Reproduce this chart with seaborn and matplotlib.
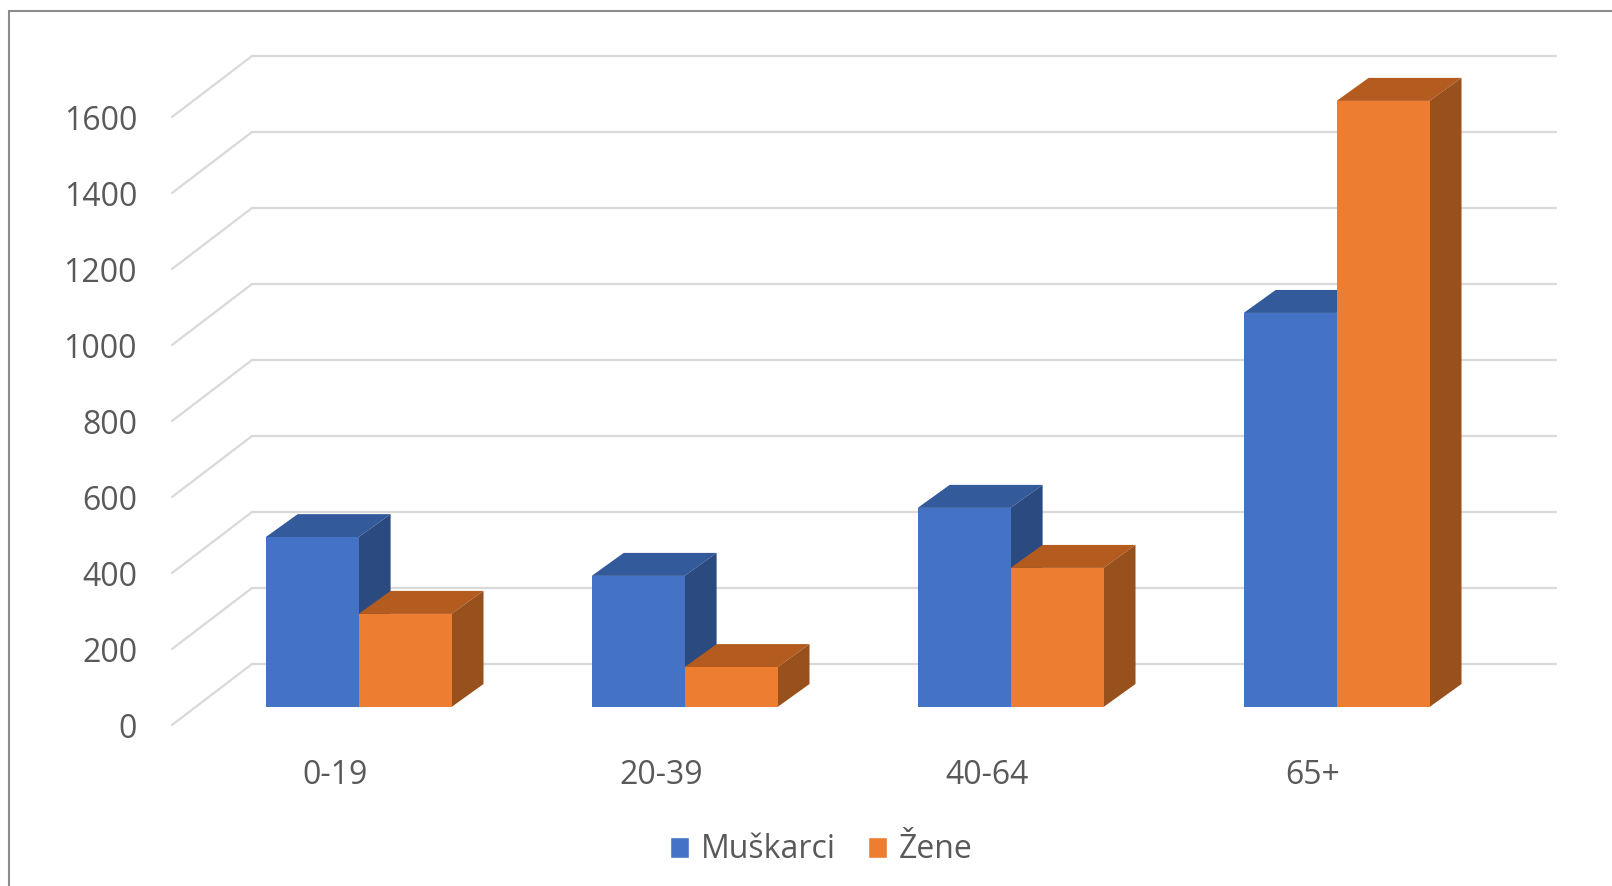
import numpy as np
import pandas as pd
import matplotlib
matplotlib.use("Agg")
import matplotlib.pyplot as plt
import seaborn as sns
from matplotlib.patches import Polygon, Patch
from matplotlib.lines import Line2D

# ---- data ----
categories = ["0-19", "20-39", "40-64", "65+"]
series = ["Muškarci", "Žene"]
muskarci = [447, 345, 524, 1037]
zene = [245, 105, 366, 1595]
yticks = [0, 200, 400, 600, 800, 1000, 1200, 1400, 1600]

# ---- style ----
BLUE, ORANGE = "#4472C4", "#ED7D31"
DARK = {BLUE: ("#335A9A", "#2B4A80"), ORANGE: ("#B45C20", "#98501C")}
TXT = "#595959"
GRID = "#d9d9d9"
FS = 23

sns.set_theme(style="white")
plt.rcParams["font.family"] = ["Open Sans", "DejaVu Sans"]

W, H, DPI = 1612, 886, 100
fig = plt.figure(figsize=(W / DPI, H / DPI), dpi=DPI)
ax = fig.add_axes([195.6 / W, (H - 707) / H, 1304 / W, 684 / H])

df = pd.DataFrame({
    "Dob": categories * 2,
    "Broj": muskarci + zene,
    "Spol": [series[0]] * len(categories) + [series[1]] * len(categories),
})
sns.barplot(data=df, x="Dob", y="Broj", hue="Spol", hue_order=series,
            palette=[BLUE, ORANGE], width=0.57, saturation=1, errorbar=None,
            linewidth=0, legend=False, ax=ax)
ax.set_xlim(-0.5, len(categories) - 0.5)
ax.set_ylim(0, 1800)
ax.axis("off")

T = ax.transData
Ti = T.inverted()

def shift(x, y, dx, dy):
    p = T.transform((x, y))
    return Ti.transform((p[0] + dx, p[1] + dy))

FRONT = (-23.6, -18.0)   # label plane offset (px)
BACK = (56.4, 43.0)      # back wall offset (px)
BAR = (32.0, 23.0)       # bar depth (px)
xl, xr = ax.get_xlim()

# back wall grid + floor slants
for v in yticks:
    p0 = shift(xl, v, *FRONT)
    p1 = shift(xl, v, *BACK)
    p2 = shift(xr, v, *BACK)
    ax.plot([p0[0], p1[0], p2[0]], [p0[1], p1[1], p2[1]], color=GRID,
            lw=1.6, zorder=1, clip_on=False, solid_joinstyle="miter")

# 3D faces for bars
for patch in list(ax.patches):
    fc = matplotlib.colors.to_hex(patch.get_facecolor())
    key = BLUE if fc.lower() == BLUE.lower() else ORANGE
    z = 3 if key == BLUE else 4
    patch.set_zorder(z)
    x0, w, h = patch.get_x(), patch.get_width(), patch.get_height()
    top = [(x0, h), (x0 + w, h), tuple(shift(x0 + w, h, *BAR)), tuple(shift(x0, h, *BAR))]
    side = [(x0 + w, 0), (x0 + w, h), tuple(shift(x0 + w, h, *BAR)), tuple(shift(x0 + w, 0, *BAR))]
    ax.add_patch(Polygon(top, closed=True, facecolor=DARK[key][0], edgecolor="none",
                         zorder=z - 0.1, clip_on=False))
    ax.add_patch(Polygon(side, closed=True, facecolor=DARK[key][1], edgecolor="none",
                         zorder=z - 0.1, clip_on=False))

# y tick labels (front plane)
for v in yticks:
    p = shift(xl, v, FRONT[0] - 35, FRONT[1] - 4)
    ax.text(p[0], p[1], f"{v}", ha="right", va="center", fontsize=FS,
            color=TXT, clip_on=False)

# x tick labels (front plane)
for i, c in enumerate(categories):
    p = shift(i, 0, FRONT[0], FRONT[1] - 51)
    ax.text(p[0], p[1], c, ha="center", va="center", fontsize=FS,
            color=TXT, clip_on=False)

# legend
handles = [Patch(facecolor=BLUE, label=series[0]), Patch(facecolor=ORANGE, label=series[1])]
fig.legend(handles=handles, loc="center", bbox_to_anchor=(821 / W, 1 - 850 / H),
           ncol=2, frameon=False, fontsize=FS, handlelength=0.62, handleheight=0.62,
           handletextpad=0.35, columnspacing=1.0, labelcolor=TXT)

# outer border (left and top visible)
fig.add_artist(Line2D([9 / W, 9 / W], [0, 1 - 11 / H], color="#8c8c8c", lw=1.5,
                      transform=fig.transFigure))
fig.add_artist(Line2D([9 / W, 1], [1 - 11 / H, 1 - 11 / H], color="#8c8c8c", lw=1.5,
                      transform=fig.transFigure))

fig.savefig("out.png", dpi=DPI)
